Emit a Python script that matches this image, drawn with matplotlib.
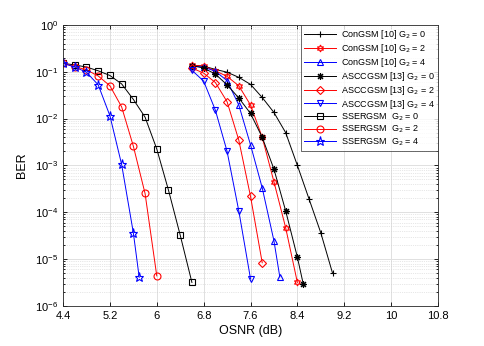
import numpy as np
import matplotlib.pyplot as plt
from matplotlib.ticker import LogLocator, NullFormatter

plt.rcParams['font.family'] = ['Liberation Sans', 'DejaVu Sans']

# OSNR (dB) grids
x_left = [4.4, 4.6, 4.8, 5.0, 5.2, 5.4, 5.6, 5.8, 6.0, 6.2, 6.4, 6.6]
x_right = [6.6, 6.8, 7.0, 7.2, 7.4, 7.6, 7.8, 8.0, 8.2, 8.4, 8.6, 8.8, 9.0]

# log10(BER)
con_g0 = [-0.86, -0.88, -0.95, -1.01, -1.12, -1.27, -1.55, -1.87, -2.30, -3.00, -3.72, -4.44, -5.30]
con_g2 = [-0.86, -0.88, -0.98, -1.10, -1.30, -1.71, -2.40, -3.35, -4.33, -5.50]
con_g4_x = [6.6, 6.8, 7.0, 7.2, 7.4, 7.6, 7.8, 8.0, 8.1]
con_g4 = [-0.88, -0.90, -0.99, -1.19, -1.71, -2.56, -3.48, -4.61, -5.38]
asc_g0_x = [6.6, 6.8, 7.0, 7.2, 7.4, 7.6, 7.8, 8.0, 8.2, 8.4, 8.5]
asc_g0 = [-0.87, -0.92, -1.05, -1.28, -1.56, -1.89, -2.40, -3.08, -3.97, -4.96, -5.53]
asc_g2 = [-0.92, -1.03, -1.23, -1.64, -2.46, -3.66, -5.08]
asc_g4 = [-0.97, -1.20, -1.82, -2.70, -3.97, -5.42]
sse_g0 = [-0.82, -0.855, -0.90, -0.98, -1.08, -1.26, -1.59, -1.97, -2.65, -3.53, -4.49, -5.50]
sse_g2 = [-0.82, -0.89, -0.96, -1.09, -1.30, -1.75, -2.59, -3.60, -5.36]
sse_g4_x = [4.4, 4.6, 4.8, 5.0, 5.2, 5.4, 5.6, 5.7]
sse_g4 = [-0.82, -0.90, -1.01, -1.28, -1.94, -2.98, -4.44, -5.39]

series = [
    (x_right, con_g0, 'k', '+', 'ConGSM [10] G$_2$ = 0'),
    (x_right[:len(con_g2)], con_g2, 'r', (6, 1, 0), 'ConGSM [10] G$_2$ = 2'),
    (con_g4_x, con_g4, 'b', '^', 'ConGSM [10] G$_2$ = 4'),
    (asc_g0_x, asc_g0, 'k', (8, 2, 0), 'ASCCGSM [13] G$_2$ = 0'),
    (x_right[:len(asc_g2)], asc_g2, 'r', 'D', 'ASCCGSM [13] G$_2$ = 2'),
    (x_right[:len(asc_g4)], asc_g4, 'b', 'v', 'ASCCGSM [13] G$_2$ = 4'),
    (x_left, sse_g0, 'k', 's', 'SSERGSM  G$_2$ = 0'),
    (x_left[:len(sse_g2)], sse_g2, 'r', 'o', 'SSERGSM  G$_2$ = 2'),
    (sse_g4_x, sse_g4, 'b', '*', 'SSERGSM  G$_2$ = 4'),
]

fig = plt.figure(figsize=(4.85, 3.46), dpi=100)
ax = fig.add_axes([0.130, 0.116, 0.773, 0.812])

for xs, ys, c, m, lab in series:
    ms = 5
    if m == 'D':
        ms = 4
    elif m == '*':
        ms = 6.5
    elif m == 's':
        ms = 4
    ax.semilogy(xs, 10.0 ** np.array(ys), color=c, marker=m, markersize=ms,
                markerfacecolor='none', markeredgecolor=c, linewidth=0.7,
                markeredgewidth=0.8, label=lab)

ax.set_xlim(4.4, 10.8)
ax.set_ylim(1e-6, 1)
xt = [4.4, 5.2, 6.0, 6.8, 7.6, 8.4, 9.2, 10.0, 10.8]
ax.set_xticks(xt)
ax.set_xticklabels(['4.4', '5.2', '6', '6.8', '7.6', '8.4', '9.2', '10', '10.8'])
ax.set_yticks([1e-6, 1e-5, 1e-4, 1e-3, 1e-2, 1e-1, 1])
ax.yaxis.set_minor_locator(LogLocator(base=10, subs=np.arange(2, 10), numticks=20))
ax.yaxis.set_minor_formatter(NullFormatter())
ax.set_ylim(1e-6, 1)

ax.grid(True, which='major', color='#e0e0e0', linewidth=0.7, linestyle='-')
ax.grid(True, which='minor', axis='y', color='#d0d0d0', linewidth=0.5, linestyle=':')
ax.set_axisbelow(True)
ax.tick_params(which='both', direction='in', top=True, right=True, labelsize=8, width=0.6)
ax.tick_params(which='major', length=3)
ax.tick_params(which='minor', length=1.5)
for s in ax.spines.values():
    s.set_linewidth(0.6)
    s.set_color('#262626')

ax.set_xlabel('OSNR (dB)', fontsize=9, labelpad=3)
ax.set_ylabel('BER', fontsize=9, labelpad=5)

leg = ax.legend(loc='upper right', fontsize=6.5, frameon=True, fancybox=False,
                edgecolor='#262626', borderpad=0.35, labelspacing=0.1,
                handlelength=3.6, handletextpad=0.5, borderaxespad=0)
leg.get_frame().set_linewidth(0.6)

fig.savefig('out.png', dpi=100)
